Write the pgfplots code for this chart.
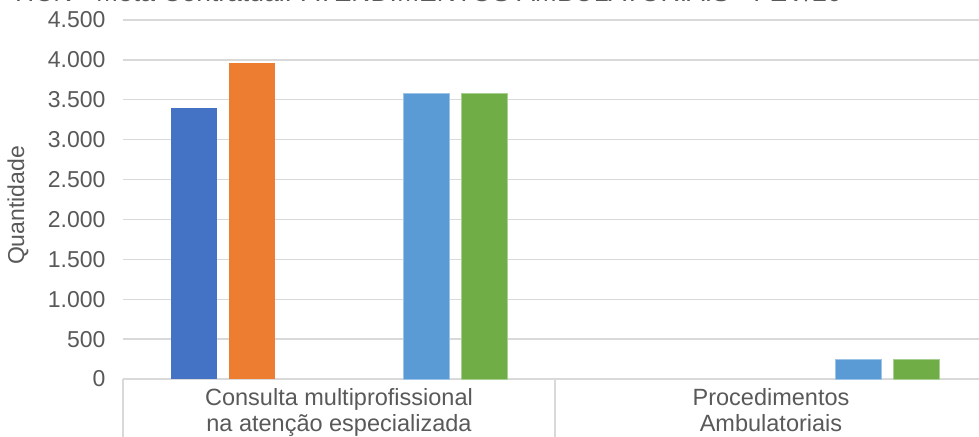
\documentclass[border=0pt]{standalone}
\usepackage{pgfplots}
\pgfplotsset{compat=1.18}
\usepackage{fontspec}
\setmainfont{Liberation Sans}
\definecolor{txt}{HTML}{595959}
\definecolor{grd}{HTML}{D9D9D9}
\definecolor{s1}{HTML}{4472C4}
\definecolor{s2}{HTML}{ED7D31}
\definecolor{s5}{HTML}{5B9BD5}
\definecolor{s6}{HTML}{70AD47}
\begin{document}
\begin{tikzpicture}[x=1bp,y=1bp]
\useasboundingbox (-123bp,-58bp) rectangle (856bp,379bp);
\clip (-123bp,-58bp) rectangle (856bp,379bp);
\begin{axis}[
  at={(0,0)}, anchor=south west,
  width=864bp, height=359bp, scale only axis,
  xmin=-0.5, xmax=1.5, ymin=0, ymax=4500,
  ybar, bar width=46bp,
  ytick={0,500,...,4500},
  yticklabels={0,500,1.000,1.500,2.000,2.500,3.000,3.500,4.000,4.500},
  xtick={0,1},
  xticklabels={{Consulta multiprofissional\\na atenção especializada},{Procedimentos\\Ambulatoriais}},
  xticklabel style={align=center, font=\fontsize{23.5bp}{26bp}\selectfont, text=txt, anchor=north, yshift=-5.5bp},
  yticklabel style={font=\fontsize{23bp}{26bp}\selectfont, text=txt, anchor=east, xshift=-14bp},
  major tick length=0pt,
  extra x ticks={-0.5,0.5,1.5},
  extra x tick labels={},
  extra x tick style={major tick length=70bp, tick align=outside, tick style={draw=grd, line width=1.3bp}, grid=none},
  ymajorgrids, grid style={draw=grd, line width=1.3bp},
  axis x line*=bottom, axis y line*=left,
  x axis line style={draw=grd, line width=1.3bp, -},
  y axis line style={draw=none},
  ylabel={Quantidade},
  ylabel style={font=\fontsize{23bp}{26bp}\selectfont, text=txt, at={(axis description cs:0,0.5)}, anchor=center, yshift=105bp, xshift=-6bp},
  clip=false,
]
\addplot[fill=s1, draw=none, bar shift=-145bp] coordinates {(0,3400)};
\addplot[fill=s2, draw=none, bar shift=-87bp] coordinates {(0,3960)};
\addplot[fill=s5, draw=s5!60!white, line width=0.8bp, bar shift=87bp] coordinates {(0,3575) (1,250)};
\addplot[fill=s6, draw=s6!60!white, line width=0.8bp, bar shift=145bp] coordinates {(0,3575) (1,250)};
\end{axis}
\node[anchor=base west, text=txt, font=\fontsize{26.5bp}{30bp}\selectfont, inner sep=0pt] at (-108bp,377bp) {HCN - Meta Contratual: ATENDIMENTOS AMBULATORIAIS - FEV/20};
\end{tikzpicture}
\end{document}
